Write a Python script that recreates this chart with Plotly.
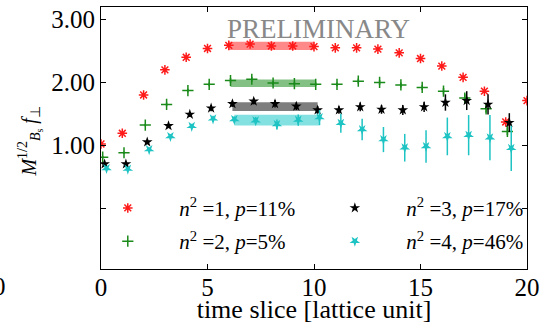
import plotly.graph_objects as go

# ---------------- data ----------------
t_red = list(range(21))
t_other = list(range(20))

red_vals = [1.02, 1.19, 1.80, 2.20, 2.40, 2.54, 2.59, 2.61, 2.58, 2.58, 2.57,
            2.55, 2.55, 2.53, 2.47, 2.38, 2.26, 2.08, 1.86, 1.37, 1.71]
red_errs = [0.02, 0.02, 0.02, 0.03, 0.03, 0.03, 0.03, 0.03, 0.03, 0.03, 0.03,
            0.03, 0.03, 0.03, 0.03, 0.03, 0.03, 0.03, 0.03, 0.04, 0.04]

green_vals = [0.81, 0.88, 1.32, 1.65, 1.87, 1.97, 2.03, 2.05, 1.99, 1.98,
              1.97, 1.97, 2.02, 2.00, 1.96, 1.92, 1.86, 1.75, 1.58, 1.22]
green_errs = [0.02, 0.02, 0.02, 0.03, 0.03, 0.03, 0.04, 0.04, 0.03, 0.03,
              0.03, 0.03, 0.04, 0.04, 0.04, 0.04, 0.05, 0.06, 0.06, 0.06]

black_vals = [0.70, 0.70, 1.05, 1.31, 1.49, 1.59, 1.66, 1.70, 1.66, 1.62,
              1.56, 1.56, 1.61, 1.57, 1.56, 1.61, 1.68, 1.71, 1.65, 1.36]
black_errs = [0.02, 0.02, 0.03, 0.03, 0.04, 0.05, 0.05, 0.05, 0.06, 0.06,
              0.06, 0.06, 0.07, 0.07, 0.08, 0.08, 0.13, 0.15, 0.16, 0.15]

cyan_vals = [0.63, 0.62, 0.93, 1.14, 1.30, 1.42, 1.41, 1.39, 1.33, 1.40,
             1.44, 1.35, 1.25, 1.09, 0.96, 0.98, 1.14, 1.16, 1.12, 0.95]
cyan_errs = [0.02, 0.02, 0.03, 0.03, 0.04, 0.05, 0.05, 0.06, 0.08, 0.09,
             0.12, 0.15, 0.17, 0.20, 0.22, 0.26, 0.30, 0.32, 0.36, 0.36]

# plateau fits: fit window [start, end], central value, error
fit_window = [6, 10]
fit_centers = [2.58, 1.985, 1.615, 1.40]
fit_errors = [0.065, 0.06, 0.07, 0.085]

# horizontal offsets of the series (for readability)
x_offsets = [0.0, 0.08, 0.17, 0.26]

legend_labels = [
    "<i>n</i><sup>2</sup> =1, <i>p</i>=11%",
    "<i>n</i><sup>2</sup> =2, <i>p</i>=5%",
    "<i>n</i><sup>2</sup> =3, <i>p</i>=17%",
    "<i>n</i><sup>2</sup> =4, <i>p</i>=46%",
]

y_tickvals = [0, 1, 2, 3]
y_ticktext = ["", "1.00", "2.00", "3.00"]
x_tickvals = [0, 5, 10, 15, 20]

# ---------------- styling ----------------
colors = ["#ff1a1a", "#1a8a1a", "#000000", "#1ec3c3"]
band_colors = ["rgba(255,40,40,0.55)", "rgba(30,140,30,0.55)",
               "rgba(40,40,40,0.6)", "rgba(30,200,200,0.55)"]
symbols = ["asterisk-open", "cross-thin-open", "star", "star"]
angles = [0, 0, 0, 180]
sizes = [8, 8, 8, 8]
legend_ids = ["legend", "legend2", "legend3", "legend4"]
# legend box positions (paper coords): columns x, rows y
legend_pos = [(-0.058, 0.31), (-0.058, 0.183), (0.475, 0.31), (0.475, 0.183)]

series = [
    (t_red, red_vals, red_errs),
    (t_other, green_vals, green_errs),
    (t_other, black_vals, black_errs),
    (t_other, cyan_vals, cyan_errs),
]

SERIF = "Liberation Serif"

fig = go.Figure()

# bands first
for i in range(4):
    x0 = fit_window[0] + x_offsets[i]
    x1 = fit_window[1] + x_offsets[i]
    lo = fit_centers[i] - fit_errors[i]
    hi = fit_centers[i] + fit_errors[i]
    fig.add_trace(go.Scatter(
        x=[x0, x1, x1, x0, x0], y=[lo, lo, hi, hi, lo],
        fill="toself", fillcolor=band_colors[i], mode="lines",
        line=dict(width=0), showlegend=False, hoverinfo="skip"))

for i, (tt, vv, ee) in enumerate(series):
    xs = [t + x_offsets[i] for t in tt]
    open_sym = symbols[i].endswith("open")
    fig.add_trace(go.Scatter(
        x=xs, y=vv, mode="markers",
        name=legend_labels[i], legend=legend_ids[i],
        marker=dict(symbol=symbols[i], size=sizes[i], color=colors[i],
                    angle=angles[i],
                    line=dict(width=1.5 if open_sym else 0, color=colors[i])),
        error_y=dict(type="data", array=ee, visible=True, color=colors[i],
                     thickness=1.5, width=0),
    ))

fig.add_annotation(text="PRELIMINARY", xref="paper", yref="paper",
                   x=0.511, y=0.916, showarrow=False, yanchor="middle",
                   xanchor="center",
                   font=dict(family=SERIF, size=27, color="#888888"))

# y-axis label (rotated)
fig.add_annotation(text="<i>M</i><sup>1/2</sup><sub><i>B</i><sub>s</sub></sub> <i>f</i><sub>⊥</sub>",
                   xref="paper", yref="paper", x=-0.1667, y=0.49,
                   textangle=-90, showarrow=False, xanchor="center",
                   yanchor="middle",
                   font=dict(family=SERIF, size=20, color="black"))

# partial tick label of a neighbouring panel at the left edge
fig.add_annotation(text="0", xref="paper", yref="paper", x=-0.2377, y=0,
                   yshift=-17, showarrow=False, xanchor="center",
                   yanchor="middle",
                   font=dict(family=SERIF, size=25, color="black"))

axis_common = dict(showline=True, linecolor="black", linewidth=1, mirror="ticks",
                   ticks="inside", ticklen=5, tickcolor="black", tickwidth=1,
                   showgrid=False, zeroline=False, automargin=False,
                   tickfont=dict(family=SERIF, size=25, color="black"))

legend_common = dict(orientation="v", xanchor="left", yanchor="top",
                     itemwidth=93, bgcolor="rgba(0,0,0,0)",
                     font=dict(family=SERIF, size=21, color="black"))

layout_legends = {}
for i, lid in enumerate(legend_ids):
    layout_legends[lid] = dict(x=legend_pos[i][0], y=legend_pos[i][1],
                               **legend_common)

fig.update_layout(
    width=543, height=324,
    margin=dict(l=101, r=16, t=7, b=55, autoexpand=False),
    paper_bgcolor="white", plot_bgcolor="white",
    xaxis=dict(range=[0, 20], tickvals=x_tickvals, ticklabelstandoff=-4,
               title=dict(text="time slice [lattice unit]", standoff=0,
                          font=dict(family=SERIF, size=26, color="black")),
               **axis_common),
    yaxis=dict(range=[-0.97, 3.2], tickvals=y_tickvals, ticktext=y_ticktext,
               **axis_common),
    showlegend=True,
    **layout_legends,
)

fig.write_html("out.html", config={"displayModeBar": False},
               post_script="document.body.style.margin='0';document.body.style.padding='0';")
